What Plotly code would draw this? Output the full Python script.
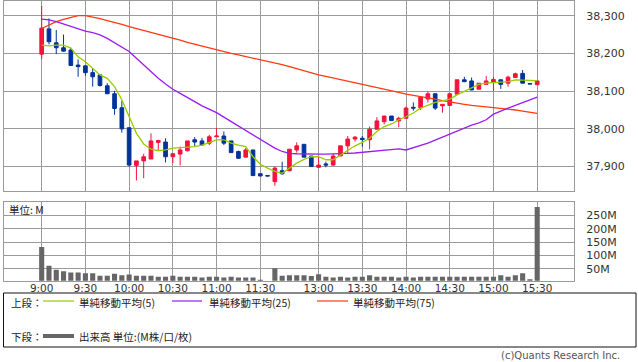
import plotly.graph_objects as go

# ---------------- data ----------------
slot = list(range(69))  # 5-minute slots, 9:00 .. 11:30, (gap), 12:30 .. 15:30

opens = [38198, 38265, 38228, 38215, 38209, 38169, 38167, 38149, 38143, 38114,
         38093, 38056, 38003, 37903, 37915, 37920, 37964, 37965, 37926, 37933,
         37942, 37971, 37968, 37962, 37979, 37981, 37968, 37940, 37925, 37944,
         37881, 37876, 37860, 37889, 37889, 37944, 37959, 37928, 37898, 37907,
         37904, 37928, 37955, 37973, 37975, 37971, 37999, 38019, 38034, 38021,
         38028, 38057, 38056, 38079, 38093, 38061, 38062, 38092, 38130, 38127,
         38105, 38118, 38123, 38130, 38121, 38136, 38147, 38120, 38117]
highs = [38326, 38293, 38262, 38250, 38215, 38184, 38167, 38160, 38143, 38121,
         38101, 38074, 38003, 37915, 37934, 37988, 37971, 37975, 37934, 37953,
         37968, 37978, 37976, 37984, 38002, 37993, 37968, 37942, 37949, 37944,
         37881, 37876, 37900, 37913, 37946, 37964, 37959, 37928, 37926, 37913,
         37935, 37955, 37981, 37981, 37981, 38006, 38031, 38034, 38034, 38032,
         38059, 38070, 38084, 38099, 38093, 38065, 38093, 38130, 38138, 38136,
         38121, 38140, 38138, 38131, 38141, 38149, 38156, 38120, 38127]
lows = [38185, 38224, 38198, 38205, 38168, 38138, 38141, 38112, 38112, 38093,
        38037, 37990, 37900, 37863, 37869, 37920, 37944, 37911, 37909, 37903,
        37940, 37954, 37956, 37957, 37979, 37957, 37937, 37920, 37925, 37876,
        37875, 37875, 37849, 37878, 37889, 37937, 37925, 37900, 37898, 37898,
        37902, 37928, 37934, 37966, 37953, 37946, 37999, 38012, 38022, 38004,
        38028, 38048, 38050, 38070, 38050, 38043, 38062, 38092, 38124, 38103,
        38105, 38118, 38100, 38106, 38112, 38136, 38121, 38119, 38117]
closes = [38267, 38231, 38215, 38206, 38168, 38165, 38149, 38138, 38115, 38093,
          38054, 38000, 37904, 37915, 37926, 37968, 37969, 37926, 37934, 37944,
          37968, 37965, 37957, 37979, 37981, 37962, 37937, 37922, 37944, 37876,
          37875, 37875, 37896, 37881, 37946, 37955, 37925, 37900, 37904, 37904,
          37928, 37955, 37973, 37978, 37972, 37999, 38021, 38034, 38022, 38028,
          38055, 38055, 38084, 38093, 38055, 38065, 38093, 38130, 38125, 38103,
          38121, 38127, 38131, 38118, 38137, 38146, 38121, 38119, 38127]

ma5 = [38222, 38220, 38222, 38222, 38214, 38191, 38178, 38161, 38143, 38134,
       38112, 38077, 38032, 37988, 37960, 37946, 37942, 37944, 37949, 37950,
       37951, 37953, 37957, 37964, 37971, 37971, 37962, 37957, 37953, 37926,
       37906, 37896, 37887, 37882, 37896, 37909, 37919, 37926, 37926, 37918,
       37918, 37931, 37944, 37955, 37964, 37975, 37993, 38006, 38013, 38024,
       38032, 38042, 38055, 38063, 38070, 38074, 38079, 38090, 38099, 38109,
       38118, 38121, 38123, 38123, 38125, 38130, 38130, 38130, 38128]
ma25 = [38291, 38289, 38284, 38278, 38271, 38266, 38259, 38255, 38249, 38240,
        38228, 38218, 38205, 38187, 38169, 38152, 38134, 38119, 38105, 38094,
        38084, 38072, 38061, 38052, 38043, 38031, 38019, 38008, 37995, 37984,
        37973, 37960, 37949, 37940, 37935, 37934, 37933, 37933, 37933, 37933,
        37933, 37934, 37935, 37936, 37938, 37940, 37942, 37944, 37945, 37947,
        37944, 37950, 37955, 37962, 37970, 37978, 37988, 37995, 38002, 38010,
        38016, 38024, 38039, 38048, 38055, 38062, 38069, 38077, 38084]
ma75 = [38266, 38276, 38284, 38290, 38296, 38300, 38300, 38297, 38292, 38287,
        38283, 38277, 38271, 38266, 38261, 38256, 38251, 38246, 38240, 38235,
        38229, 38224, 38218, 38213, 38208, 38204, 38200, 38196, 38192, 38188,
        38184, 38180, 38175, 38170, 38165, 38159, 38153, 38148, 38143, 38139,
        38135, 38131, 38127, 38122, 38117, 38114, 38111, 38107, 38102, 38097,
        38092, 38089, 38086, 38083, 38079, 38075, 38071, 38068, 38065, 38062,
        38060, 38058, 38057, 38055, 38052, 38050, 38047, 38044, 38041]

volume_m = [131, 61, 46, 40, 36, 36, 33, 33, 24, 24,
            31, 25, 28, 24, 24, 24, 20, 20, 24, 20,
            20, 20, 17, 20, 20, 17, 20, 17, 17, 17,
            9, 0, 52, 24, 25, 25, 25, 23, 29, 20,
            17, 20, 17, 20, 20, 25, 20, 20, 20, 17,
            20, 17, 20, 20, 20, 20, 20, 20, 20, 20,
            20, 20, 20, 25, 20, 25, 33, 10, 281]

time_tick_slots = [0, 6, 12, 18, 24, 30, 38, 44, 50, 56, 62, 68]
time_tick_labels = ["9:00", "9:30", "10:00", "10:30", "11:00", "11:30",
                    "13:00", "13:30", "14:00", "14:30", "15:00", "15:30"]
price_ticks = [37900, 38000, 38100, 38200, 38300]
volume_ticks = [50, 100, 150, 200, 250]
volume_tick_labels = ["50M", "100M", "150M", "200M", "250M"]

# ---------------- styling ----------------
W, H = 638, 362
RED = "#f5123c"
BLUE = "#003399"
C_MA5 = "#99cc00"
C_MA25 = "#9a1cf0"
C_MA75 = "#ff3a10"
GRID = "#9a9a9a"
FONT = "DejaVu Sans, Noto Sans CJK JP, sans-serif"
JFONT = "Noto Sans CJK JP, DejaVu Sans, sans-serif"


def fx(px):
    return px / W


def fy(py):
    return 1 - py / H


fig = go.Figure()

fig.add_trace(go.Candlestick(
    x=slot, open=opens, high=highs, low=lows, close=closes,
    increasing=dict(line=dict(color=RED, width=1), fillcolor=RED),
    decreasing=dict(line=dict(color=BLUE, width=1), fillcolor=BLUE),
    xaxis="x", yaxis="y", showlegend=False, hoverinfo="skip"))

for vals, col in [(ma75, C_MA75), (ma25, C_MA25), (ma5, C_MA5)]:
    fig.add_trace(go.Scatter(x=slot, y=vals, mode="lines",
                             line=dict(color=col, width=1.3),
                             xaxis="x", yaxis="y", showlegend=False,
                             hoverinfo="skip"))

fig.add_trace(go.Bar(x=slot, y=volume_m, marker=dict(color="#666666", line=dict(width=0)),
                     xaxis="x2", yaxis="y2", showlegend=False, hoverinfo="skip"))

xr = [-5.24, 73.05]
common_x = dict(range=xr, tickmode="array", tickvals=time_tick_slots,
                showgrid=True, gridcolor=GRID, gridwidth=1, zeroline=False,
                showline=True, linecolor=GRID, linewidth=1, mirror=True,
                ticks="", fixedrange=True)

fig.update_layout(
    width=W, height=H,
    margin=dict(l=0, r=0, t=0, b=0),
    paper_bgcolor="white", plot_bgcolor="white",
    font=dict(family=FONT, size=11, color="#333333"),
    boxgap=0.28, bargap=0.3,
    xaxis=dict(domain=[fx(3.5), fx(574)], anchor="y", showticklabels=False,
               rangeslider=dict(visible=False), **common_x),
    yaxis=dict(domain=[fy(190.7), fy(0.6)], anchor="x", side="right",
               range=[37836, 38340], tickmode="array", tickvals=price_ticks,
               tickformat=",d", showgrid=True, gridcolor=GRID, gridwidth=1,
               zeroline=False, showline=True, linecolor=GRID, linewidth=1,
               mirror=True, ticks="", ticklabelstandoff=9,
               tickfont=dict(family=FONT, size=11, color="#333333")),
    xaxis2=dict(domain=[fx(3.5), fx(574)], anchor="y2",
                ticktext=time_tick_labels, showticklabels=True,
                ticklabelstandoff=-2,
                tickfont=dict(family=FONT, size=10.5, color="#333333"),
                **common_x),
    yaxis2=dict(domain=[fy(280.7), fy(201.7)], anchor="x2", side="right",
                range=[5, 301], tickmode="array", tickvals=volume_ticks,
                ticktext=volume_tick_labels, showgrid=True, gridcolor=GRID,
                gridwidth=1, zeroline=False, showline=True, linecolor=GRID,
                linewidth=1, mirror=True, ticks="", ticklabelstandoff=9,
                tickfont=dict(family=FONT, size=11, color="#333333")),
)

shapes = []
# legend box
shapes.append(dict(type="rect", xref="paper", yref="paper",
                   x0=fx(3.5), x1=fx(636), y0=fy(347), y1=fy(293),
                   line=dict(color="#111111", width=1), fillcolor="rgba(0,0,0,0)"))
for (x0, x1, yy, col, w) in [(43, 74, 301, C_MA5, 1.2), (172, 202, 301, C_MA25, 1.2),
                             (317, 348, 301, C_MA75, 1.2), (43, 74, 336, "#666666", 4)]:
    shapes.append(dict(type="line", xref="paper", yref="paper",
                       x0=fx(x0), x1=fx(x1), y0=fy(yy), y1=fy(yy),
                       line=dict(color=col, width=w)))
fig.update_layout(shapes=shapes)

annots = [
    ("単位: M", 8, 209, "left"),
    ("上段：", 10, 302, "left"),
    ("単純移動平均(5)", 78, 302, "left"),
    ("単純移動平均(25)", 208, 302, "left"),
    ("単純移動平均(75)", 352, 302, "left"),
    ("下段：", 10, 336, "left"),
    ("出来高 単位:(M株/口/枚)", 78, 336, "left"),
]
for text, x, y, al in annots:
    fig.add_annotation(text=text, xref="paper", yref="paper", x=fx(x), y=fy(y),
                       xanchor=al, yanchor="middle", showarrow=False, borderpad=0,
                       font=dict(family=JFONT, size=10.5, color="#222222"))
fig.add_annotation(text="(c)Quants Research Inc.", xref="paper", yref="paper",
                   x=fx(621), y=fy(355), xanchor="right", yanchor="middle",
                   showarrow=False, borderpad=0,
                   font=dict(family=FONT, size=10, color="#555555"))

fig.write_html("out.html", config={"displayModeBar": False},
               post_script="document.body.style.margin='0';document.body.style.padding='0';")
